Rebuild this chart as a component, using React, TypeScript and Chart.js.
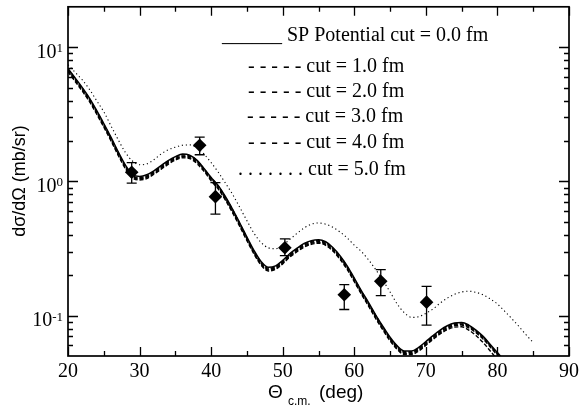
import React, { useEffect, useRef } from 'react';
import { Chart, registerables } from 'chart.js';

Chart.register(...registerables);

// ---- data ----
const curveAngles = [20, 21, 22, 23, 24, 25, 26, 27, 28, 29, 30, 31, 32, 33, 34, 35, 36, 37, 38, 39, 40, 41, 42, 43, 44, 45, 46, 47, 48, 49, 50, 51, 52, 53, 54, 55, 56, 57, 58, 59, 60, 61, 62, 63, 64, 65, 66, 67, 68, 69, 70, 71, 72, 73, 74, 75, 76, 77, 78, 79, 80, 81, 82, 83, 84, 85];

const spPotential = [6.95, 5.9, 5.0, 4.18, 3.38, 2.7, 2.14, 1.67, 1.33, 1.13, 1.09, 1.12, 1.2, 1.31, 1.43, 1.53, 1.6, 1.57, 1.44, 1.25, 1.07, 0.93, 0.77, 0.62, 0.49, 0.385, 0.305, 0.252, 0.229, 0.235, 0.258, 0.29, 0.318, 0.345, 0.362, 0.368, 0.355, 0.322, 0.28, 0.235, 0.19, 0.153, 0.125, 0.101, 0.083, 0.069, 0.0595, 0.0545, 0.0545, 0.058, 0.064, 0.071, 0.078, 0.084, 0.088, 0.089, 0.085, 0.078, 0.07, 0.061, 0.053, 0.046];

const cut1 = [6.85, 5.82, 4.93, 4.12, 3.33, 2.66, 2.1, 1.64, 1.31, 1.11, 1.07, 1.1, 1.18, 1.29, 1.41, 1.51, 1.58, 1.55, 1.43, 1.24, 1.06, 0.92, 0.76, 0.615, 0.485, 0.38, 0.3, 0.248, 0.225, 0.231, 0.254, 0.286, 0.314, 0.34, 0.357, 0.363, 0.35, 0.318, 0.277, 0.232, 0.188, 0.151, 0.123, 0.1, 0.082, 0.068, 0.0587, 0.0538, 0.0538, 0.0572, 0.063, 0.07, 0.077, 0.083, 0.087, 0.088, 0.084, 0.077, 0.069, 0.06, 0.052, 0.045];

const cut2 = [6.75, 5.73, 4.85, 4.06, 3.28, 2.62, 2.07, 1.62, 1.29, 1.09, 1.055, 1.085, 1.165, 1.27, 1.39, 1.48, 1.55, 1.53, 1.41, 1.23, 1.05, 0.91, 0.75, 0.605, 0.478, 0.374, 0.296, 0.244, 0.222, 0.228, 0.25, 0.281, 0.309, 0.335, 0.351, 0.357, 0.344, 0.313, 0.272, 0.228, 0.185, 0.148, 0.121, 0.098, 0.0805, 0.0669, 0.0577, 0.0529, 0.0529, 0.0563, 0.062, 0.0689, 0.0757, 0.0815, 0.0854, 0.0863, 0.0825, 0.0757, 0.0679, 0.0592, 0.0514, 0.0446];

const cut3 = [6.65, 5.64, 4.78, 3.99, 3.23, 2.58, 2.04, 1.59, 1.27, 1.08, 1.04, 1.07, 1.145, 1.25, 1.37, 1.46, 1.53, 1.5, 1.39, 1.21, 1.03, 0.89, 0.735, 0.592, 0.468, 0.368, 0.291, 0.241, 0.219, 0.224, 0.246, 0.277, 0.304, 0.329, 0.346, 0.351, 0.339, 0.308, 0.267, 0.224, 0.181, 0.146, 0.119, 0.0965, 0.0793, 0.0659, 0.0568, 0.052, 0.052, 0.0554, 0.0611, 0.0678, 0.0745, 0.0802, 0.084, 0.085, 0.081, 0.0745, 0.0668, 0.0583, 0.0506, 0.0439];

const cut4 = [6.55, 5.55, 4.7, 3.93, 3.18, 2.54, 2.01, 1.57, 1.25, 1.06, 1.025, 1.05, 1.13, 1.23, 1.34, 1.44, 1.5, 1.48, 1.36, 1.19, 1.01, 0.875, 0.724, 0.583, 0.461, 0.362, 0.287, 0.237, 0.215, 0.221, 0.243, 0.273, 0.299, 0.324, 0.34, 0.346, 0.334, 0.303, 0.263, 0.221, 0.179, 0.144, 0.1175, 0.095, 0.078, 0.0649, 0.0559, 0.0512, 0.0512, 0.0545, 0.06, 0.0665, 0.073, 0.0785, 0.082, 0.0825, 0.078, 0.071, 0.063, 0.0545, 0.047, 0.041];

const cut5 = [7.4, 6.5, 5.7, 4.85, 4.0, 3.3, 2.6, 2.05, 1.65, 1.42, 1.33, 1.35, 1.45, 1.6, 1.72, 1.8, 1.86, 1.87, 1.78, 1.6, 1.38, 1.17, 0.97, 0.8, 0.64, 0.51, 0.41, 0.35, 0.32, 0.315, 0.335, 0.37, 0.41, 0.45, 0.48, 0.49, 0.48, 0.455, 0.42, 0.38, 0.335, 0.3, 0.26, 0.22, 0.183, 0.15, 0.122, 0.105, 0.097, 0.098, 0.104, 0.112, 0.124, 0.135, 0.144, 0.15, 0.152, 0.149, 0.143, 0.133, 0.122, 0.108, 0.095, 0.083, 0.072, 0.063];

const expAngles = [28.9, 38.4, 40.6, 50.3, 58.6, 63.7, 70.1];
const expValues = [1.17, 1.86, 0.77, 0.32, 0.143, 0.18, 0.126];
const expLow = [0.97, 1.58, 0.57, 0.28, 0.111, 0.141, 0.085];
const expHigh = [1.38, 2.14, 0.98, 0.373, 0.17, 0.22, 0.165];

const xMajorTicks = [20, 30, 40, 50, 60, 70, 80, 90];
const xMinorTicks = [25, 35, 45, 55, 65, 75, 85];
const yMajorTicks = [0.1, 1, 10];
const yMajorExponents = ['-1', '0', '1'];
const yMinorTicks = [0.06, 0.07, 0.08, 0.09, 0.2, 0.3, 0.4, 0.5, 0.6, 0.7, 0.8, 0.9, 2, 3, 4, 5, 6, 7, 8, 9];

const legendMarks = ['______', '- - - - -', '- - - - -', '- - - - -', '- - - - -', '. . . . . . .'];
const legendLabels = ['SP Potential cut = 0.0 fm', 'cut = 1.0 fm', 'cut = 2.0 fm', 'cut = 3.0 fm', 'cut = 4.0 fm', 'cut = 5.0 fm'];

const SERIF = "'Liberation Serif', 'Times New Roman', serif";
const SANS = "'Liberation Sans', Arial, sans-serif";

export default function App() {
  const ref = useRef<HTMLCanvasElement>(null);

  useEffect(() => {
    const canvas = ref.current;
    if (!canvas) return;

    const toXY = (vals: number[]) => vals.map((v, i) => ({ x: curveAngles[i], y: v }));

    const errorBars = {
      id: 'errorBars',
      afterDatasetsDraw(chart: any) {
        const { ctx, scales } = chart;
        const xs = scales.x;
        const ys = scales.y;
        ctx.save();
        ctx.strokeStyle = '#000';
        ctx.lineWidth = 1.3;
        ctx.beginPath();
        for (let i = 0; i < expAngles.length; i++) {
          const px = xs.getPixelForValue(expAngles[i]);
          const pLo = ys.getPixelForValue(expLow[i]);
          const pHi = ys.getPixelForValue(expHigh[i]);
          ctx.moveTo(px, pLo);
          ctx.lineTo(px, pHi);
          ctx.moveTo(px - 5, pLo);
          ctx.lineTo(px + 5, pLo);
          ctx.moveTo(px - 5, pHi);
          ctx.lineTo(px + 5, pHi);
        }
        ctx.stroke();
        ctx.restore();
      },
    };

    const frame = {
      id: 'frame',
      afterDraw(chart: any) {
        const { ctx, chartArea: a, scales } = chart;
        const xs = scales.x;
        const ys = scales.y;
        ctx.save();
        ctx.strokeStyle = '#000';
        ctx.fillStyle = '#000';
        ctx.lineWidth = 1.3;
        ctx.beginPath();
        xMajorTicks.forEach((v) => {
          const px = Math.round(xs.getPixelForValue(v)) + 0.5;
          ctx.moveTo(px, a.bottom); ctx.lineTo(px, a.bottom - 9);
          ctx.moveTo(px, a.top); ctx.lineTo(px, a.top + 9);
        });
        xMinorTicks.forEach((v) => {
          const px = Math.round(xs.getPixelForValue(v)) + 0.5;
          ctx.moveTo(px, a.bottom); ctx.lineTo(px, a.bottom - 5);
          ctx.moveTo(px, a.top); ctx.lineTo(px, a.top + 5);
        });
        yMajorTicks.forEach((v) => {
          const py = Math.round(ys.getPixelForValue(v)) + 0.5;
          ctx.moveTo(a.left, py); ctx.lineTo(a.left + 10, py);
          ctx.moveTo(a.right, py); ctx.lineTo(a.right - 10, py);
        });
        yMinorTicks.forEach((v) => {
          const py = Math.round(ys.getPixelForValue(v)) + 0.5;
          ctx.moveTo(a.left, py); ctx.lineTo(a.left + 5, py);
          ctx.moveTo(a.right, py); ctx.lineTo(a.right - 5, py);
        });
        ctx.stroke();

        ctx.lineWidth = 1.7;
        ctx.strokeRect(a.left, a.top, a.right - a.left, a.bottom - a.top);

        // x tick labels
        ctx.font = `20px ${SERIF}`;
        ctx.textAlign = 'center';
        ctx.textBaseline = 'alphabetic';
        xMajorTicks.forEach((v) => {
          ctx.fillText(String(v), xs.getPixelForValue(v), a.bottom + 21);
        });

        // y tick labels 10^n
        yMajorTicks.forEach((v, i) => {
          const py = ys.getPixelForValue(v);
          const right = a.left - 5;
          ctx.font = `13px ${SERIF}`;
          ctx.textAlign = 'right';
          const supW = ctx.measureText(yMajorExponents[i]).width;
          ctx.fillText(yMajorExponents[i], right, py + 5);
          ctx.font = `20px ${SERIF}`;
          ctx.fillText('10', right - supW, py + 10.5);
        });

        // x title
        ctx.textAlign = 'left';
        ctx.font = `19px ${SANS}`;
        ctx.fillText('\u0398', 268, 398);
        ctx.font = `12px ${SANS}`;
        ctx.fillText('c.m.', 288, 405);
        ctx.font = `19px ${SANS}`;
        ctx.fillText('(deg)', 319, 398);

        // y title
        ctx.save();
        ctx.translate(25, 181);
        ctx.rotate(-Math.PI / 2);
        ctx.textAlign = 'center';
        ctx.font = `18px ${SANS}`;
        ctx.fillText('d\u03c3/d\u03a9 (mb/sr)', 0, 0);
        ctx.restore();

        // legend
        const rows = [
          [222, 41], [248, 72], [248, 97], [247, 122], [248, 148], [238, 175],
        ];
        ctx.font = `20px ${SERIF}`;
        ctx.textAlign = 'left';
        legendLabels.forEach((label, i) => {
          const [lx, ly] = rows[i];
          ctx.fillText(legendMarks[i] + ' ' + label, lx, ly);
        });

        ctx.restore();
      },
    };

    const lineDs = (label: string, data: number[], dash: number[], width: number) => ({
      label,
      data: toXY(data),
      borderColor: '#000',
      borderWidth: width,
      borderDash: dash,
      pointRadius: 0,
      fill: false,
      cubicInterpolationMode: 'monotone' as const,
      clip: 0,
    });

    const chart = new Chart(canvas, {
      type: 'line',
      data: {
        datasets: [
          {
            label: 'data',
            data: expAngles.map((x, i) => ({ x, y: expValues[i] })),
            showLine: false,
            pointStyle: 'rectRot',
            pointRadius: 6.8,
            backgroundColor: '#000',
            borderColor: '#000',
            borderWidth: 0,
            clip: 0,
          } as any,
          lineDs('SP Potential cut = 0.0 fm', spPotential, [], 1.5),
          lineDs('cut = 1.0 fm', cut1, [4, 2], 1.4),
          lineDs('cut = 2.0 fm', cut2, [4, 2], 1.4),
          lineDs('cut = 3.0 fm', cut3, [4, 2], 1.4),
          lineDs('cut = 4.0 fm', cut4, [4, 2], 1.4),
          lineDs('cut = 5.0 fm', cut5, [1.2, 2.8], 1.1),
        ],
      },
      options: {
        animation: false,
        responsive: false,
        devicePixelRatio: 1,
        layout: { padding: { left: 68, right: 12, top: 6, bottom: 53 } },
        scales: {
          x: { type: 'linear', min: 20, max: 90, display: false },
          y: { type: 'logarithmic', min: 0.05, max: 20, display: false },
        },
        plugins: {
          legend: { display: false },
          tooltip: { enabled: false },
        },
      },
      plugins: [errorBars, frame],
    });

    return () => chart.destroy();
  }, []);

  return (
    <div style={{ position: 'fixed', left: 0, top: 0, width: 581, height: 409, background: '#fff' }}>
      <canvas ref={ref} width={581} height={409} style={{ display: 'block' }} />
    </div>
  );
}
